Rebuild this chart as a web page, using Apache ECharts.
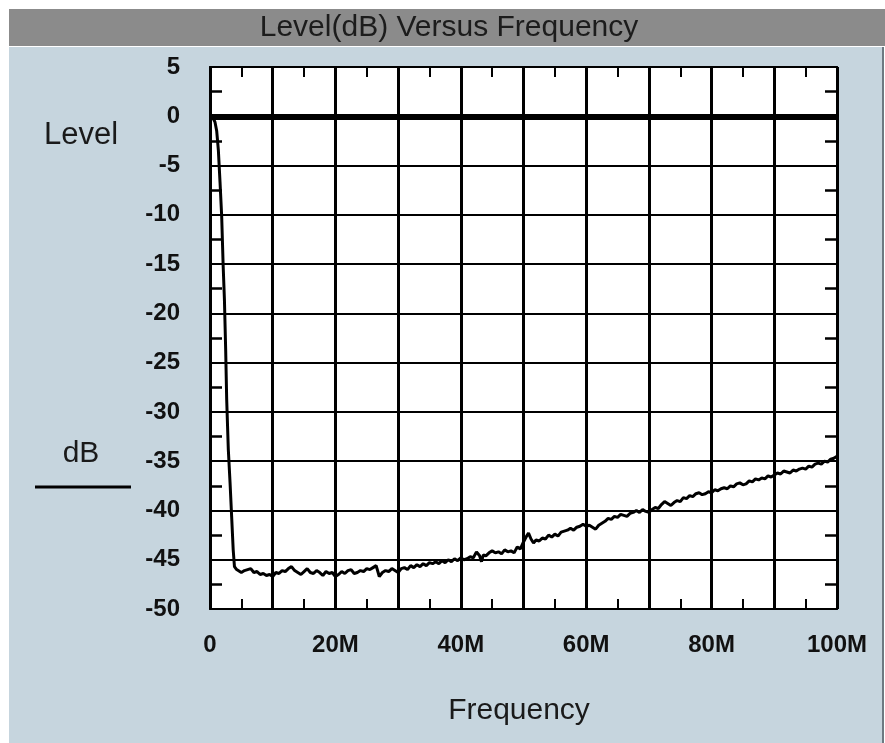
<!DOCTYPE html>
<html lang="en">
<head>
    <meta charset="UTF-8">
    <title>Level(dB) Versus Frequency</title>
    <style>
        html, body { margin: 0; padding: 0; background: #fff; }
        #chart { width: 885px; height: 743px; }
    </style>
</head>
<body>
    <div id="chart"></div>
    <script src="https://cdn.jsdelivr.net/npm/echarts@6/dist/echarts.min.js"></script>
    <script>
        // 标题和坐标轴文字
        var titleText = 'Level(dB) Versus Frequency';
        var yName = 'Level';
        var yUnit = 'dB';
        var xName = 'Frequency';
        var xLabels = ['0', '20M', '40M', '60M', '80M', '100M'];

        // 曲线：[频率(MHz), 电平(dB)]
        var trace = [
            [0, 0], [0.5, -0.2], [0.8, -0.6], [1.07, -1.5], [1.33, -3.4], [1.6, -6.7],
            [1.86, -10.1], [2.1, -15.2], [2.3, -18.6], [2.5, -23.7], [2.66, -28.7],
            [2.92, -33.8], [3.2, -37.2], [3.45, -40.6], [3.7, -44.0], [3.9, -45.7], [4.25, -46.0],
            [4.5, -45.9], [5, -46.3], [5.5, -46.1], [6, -46.0], [6.5, -45.9], [7, -46.3],
            [7.5, -46.2], [8, -46.5], [8.5, -46.4], [9, -46.6], [9.5, -46.5], [10, -46.7],
            [10.5, -46.3], [11, -46.4], [11.5, -46.1], [12, -46.2], [12.5, -45.9], [13, -45.7],
            [13.5, -46.1], [14, -46.3], [14.5, -46.5], [15, -46.2], [15.5, -45.9], [16, -46.3],
            [16.5, -46.4], [17, -46.1], [17.5, -46.3], [18, -46.6], [18.5, -46.2], [19, -46.4],
            [19.5, -46.3], [20, -46.7], [20.5, -46.5], [21, -46.2], [21.5, -46.4], [22, -46.1],
            [22.5, -46.0], [23, -46.4], [23.5, -46.3], [24, -46.1], [24.5, -46.2], [25, -45.9],
            [25.5, -46.0], [26, -45.8], [26.5, -45.6], [27, -46.7], [27.5, -46.3], [28, -46.1],
            [28.5, -46.2], [29, -45.9], [29.5, -46.1], [30, -46.3], [30.5, -45.9], [31, -45.8],
            [31.5, -46.0], [32, -45.6], [32.5, -45.8], [33, -45.5], [33.5, -45.7], [34, -45.4],
            [34.5, -45.6], [35, -45.3], [35.5, -45.4], [36, -45.2], [36.5, -45.4], [37, -45.1],
            [37.5, -45.3], [38, -45.0], [38.5, -45.2], [39, -44.9], [39.5, -45.1], [40, -44.8],
            [40.5, -45.0], [41, -44.9], [41.5, -44.7], [42, -44.8], [42.5, -44.2], [43, -44.6],
            [43.3, -45.2], [43.6, -44.5], [44, -44.6], [44.5, -44.3], [45, -44.1], [45.5, -44.3],
            [46, -44.2], [46.5, -44.4], [47, -44.0], [47.5, -44.2], [48, -44.1], [48.5, -44.3],
            [49, -43.7], [49.5, -43.9], [50, -43.2], [50.5, -42.6], [50.8, -42.3], [51.2, -42.9],
            [51.6, -43.3], [52, -43.0], [52.5, -43.1], [53, -42.8], [53.5, -42.9], [54, -42.5],
            [54.5, -42.7], [55, -42.4], [55.5, -42.6], [56, -42.2], [56.5, -42.1], [57, -42.0],
            [57.5, -41.8], [58, -42.0], [58.5, -41.7], [59, -41.6], [59.5, -41.4], [60, -41.6],
            [60.5, -41.5], [61, -41.7], [61.5, -41.9], [62, -41.5], [62.5, -41.3], [63, -41.1],
            [63.5, -40.8], [64, -40.9], [64.5, -40.6], [65, -40.7], [65.5, -40.4], [66, -40.5],
            [66.5, -40.6], [67, -40.3], [67.5, -40.2], [68, -40.0], [68.5, -40.2], [69, -39.9],
            [69.5, -40.1], [70, -40.2], [70.5, -39.9], [71, -39.7], [71.5, -39.8], [72, -39.4],
            [72.5, -39.1], [73, -39.3], [73.5, -39.5], [74, -39.2], [74.5, -39.0], [75, -39.1],
            [75.5, -38.7], [76, -38.8], [76.5, -38.5], [77, -38.6], [77.5, -38.3], [78, -38.2],
            [78.5, -38.4], [79, -38.3], [79.5, -38.1], [80, -38.2], [80.5, -37.9], [81, -38.0],
            [81.5, -37.8], [82, -37.7], [82.5, -37.8], [83, -37.5], [83.5, -37.6], [84, -37.3],
            [84.5, -37.2], [85, -37.4], [85.5, -37.3], [86, -37.0], [86.5, -37.1], [87, -36.8],
            [87.5, -36.9], [88, -36.7], [88.5, -36.8], [89, -36.5], [89.5, -36.6], [90, -36.4],
            [90.5, -36.2], [91, -36.3], [91.5, -36.0], [92, -36.1], [92.5, -36.2], [93, -35.9],
            [93.5, -36.0], [94, -35.8], [94.5, -35.7], [95, -35.8], [95.5, -35.5], [96, -35.6],
            [96.5, -35.3], [97, -35.2], [97.5, -35.3], [98, -35.0], [98.5, -35.1], [99, -34.8],
            [99.5, -34.7], [100, -34.5]
        ];

        var chart = echarts.init(document.getElementById('chart'));
        var font = '"Liberation Sans", Arial, sans-serif';

        // 上下两条x轴、左右两条y轴共用的刻度样式
        function xAxisOf(pos) {
            return {
                type: 'value',
                position: pos,
                min: 0,
                max: 100,
                interval: 10,
                axisLine: { show: true, onZero: false, lineStyle: { color: '#000', width: 2 } },
                axisTick: { show: true, inside: true, length: 10, lineStyle: { color: '#000', width: 2 } },
                minorTick: { show: true, splitNumber: 2, length: 10, lineStyle: { color: '#000', width: 2 } },
                splitLine: { show: pos === 'bottom', lineStyle: { color: '#000', width: 3 } },
                axisLabel: {
                    show: pos === 'bottom',
                    margin: 24,
                    color: '#111',
                    fontFamily: font,
                    fontWeight: 'bold',
                    fontSize: 24,
                    formatter: function (v) {
                        return v % 20 === 0 ? xLabels[v / 20] : '';
                    }
                }
            };
        }
        function yAxisOf(pos) {
            return {
                type: 'value',
                position: pos,
                min: -50,
                max: 5,
                interval: 5,
                axisLine: { show: true, onZero: false, lineStyle: { color: '#000', width: 2 } },
                axisTick: { show: true, inside: true, length: 12, lineStyle: { color: '#000', width: 2 } },
                minorTick: { show: true, splitNumber: 2, length: 12, lineStyle: { color: '#000', width: 2.5 } },
                splitLine: { show: pos === 'left', lineStyle: { color: '#000', width: 2 } },
                axisLabel: {
                    show: pos === 'left',
                    margin: 30,
                    color: '#111',
                    fontFamily: font,
                    fontWeight: 'bold',
                    fontSize: 24,
                    padding: [8, 0, 0, 0]
                }
            };
        }

        var option = {
            backgroundColor: '#fff',
            animation: false,
            title: {
                text: titleText,
                left: 449,
                top: 28,
                textAlign: 'center',
                textVerticalAlign: 'middle',
                padding: 0,
                textStyle: { color: '#1c1c1c', fontFamily: font, fontWeight: 'normal', fontSize: 30 }
            },
            grid: { left: 210, top: 67, width: 627, height: 542, containLabel: false, backgroundColor: '#fff', show: true, borderWidth: 0 },
            xAxis: [xAxisOf('bottom'), xAxisOf('top')],
            yAxis: [yAxisOf('left'), yAxisOf('right')],
            graphic: [
                { type: 'rect', z: -10, silent: true, shape: { x: 9, y: 9, width: 876, height: 37 }, style: { fill: '#8b8b8b' } },
                { type: 'rect', z: -10, silent: true, shape: { x: 9, y: 47, width: 873, height: 696 }, style: { fill: '#c6d5de' } },
                { type: 'rect', z: -10, silent: true, shape: { x: 882, y: 47, width: 2, height: 696 }, style: { fill: '#6d7a82' } },
                { type: 'text', silent: true, x: 81, y: 135, style: { text: yName, fill: '#1a1a1a', font: '31px ' + font, textAlign: 'center', textVerticalAlign: 'middle' } },
                { type: 'text', silent: true, x: 81, y: 454, style: { text: yUnit, fill: '#1a1a1a', font: '30px ' + font, textAlign: 'center', textVerticalAlign: 'middle' } },
                { type: 'line', silent: true, shape: { x1: 35, y1: 487, x2: 131, y2: 487 }, style: { stroke: '#000', lineWidth: 3 } },
                { type: 'text', silent: true, x: 519, y: 711, style: { text: xName, fill: '#1a1a1a', font: '30px ' + font, textAlign: 'center', textVerticalAlign: 'middle' } }
            ],
            series: [{
                type: 'line',
                data: trace,
                symbol: 'none',
                lineStyle: { color: '#000', width: 3 },
                z: 5,
                markLine: {
                    silent: true,
                    symbol: 'none',
                    label: { show: false },
                    lineStyle: { color: '#000', width: 6, type: 'solid' },
                    data: [{ yAxis: 0 }]
                }
            }]
        };
        chart.setOption(option);
    </script>
</body>
</html>
